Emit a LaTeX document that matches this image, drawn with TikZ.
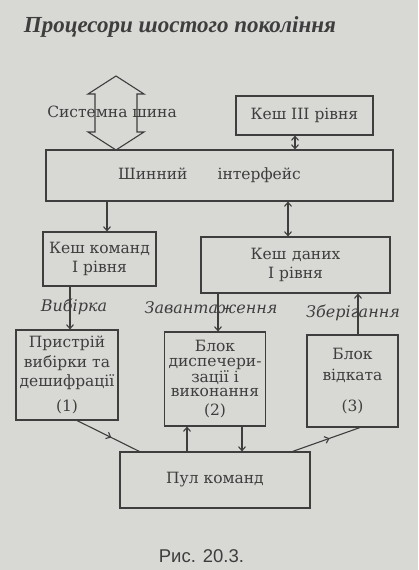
\documentclass[tikz,border=0pt]{standalone}
\usepackage{fontspec}
\setmainfont{DejaVu Serif}
\newfontfamily\titlefont{Liberation Serif}
\newfontfamily\capfont{Liberation Sans}
\usetikzlibrary{arrows.meta,decorations.markings}
\definecolor{papir}{RGB}{216,216,213}
\definecolor{chornylo}{RGB}{62,62,62}

\begin{document}
\begin{tikzpicture}[x=1pt, y=-1pt, >={Straight Barb[length=4pt,width=7pt]},
  font=\fontsize{15.5}{15.5}\selectfont, color=chornylo, line width=1.1pt,
  blok/.style={draw, align=center, inner sep=0pt},
  pidpys/.style={font=\fontsize{16}{16}\selectfont\itshape},
  midarrow/.style={postaction={decorate}, decoration={markings, mark=at position 0.55 with {\arrow{>}}}}]
  \fill[papir] (0,0) rectangle (418,570);
  \node[anchor=base west, font=\titlefont\fontsize{23}{23}\selectfont\bfseries\itshape] (tytul) at (20,32) {Процесори шостого покоління};

  % system bus
  \draw (116,76) -- (144,94) -- (137,94) -- (137,132) -- (144,132) -- (116,150)
    -- (88,132) -- (95,132) -- (95,94) -- (88,94) -- cycle;
  \node (shyna) at (112,112) {Системна шина};

  \node[blok, minimum width=137pt, minimum height=39pt] (kesh3) at (304.5,115.5) {Кеш III рівня};
  \node[blok, minimum width=347pt, minimum height=51pt] (interfejs) at (219.5,175.5) {Шинний\hspace{30pt}інтерфейс\hspace{20pt}};
  \node[blok, minimum width=113pt, minimum height=54pt] (keshkom) at (99.5,259) {Кеш команд\\[4pt]I рівня};
  \node[blok, minimum width=189pt, minimum height=56pt] (keshdan) at (295.5,265) {Кеш\hspace{6pt}даних\\[4pt]I рівня};
  \node[blok, minimum width=102pt, minimum height=90pt, font=\fontsize{15.5}{19.5}\selectfont] (prystrij) at (67,375) {Пристрій\\вибірки та\\дешифрації\\[5pt](1)};
  \node[blok, minimum width=101pt, minimum height=94pt, font=\fontsize{15.5}{14.5}\selectfont] (dysp) at (215,379) {Блок\\диспечери-\\зації і\\виконання\\[4pt](2)};
  \node[blok, minimum width=91pt, minimum height=92pt, font=\fontsize{15.5}{21}\selectfont] (vidkat) at (352.5,381) {Блок\\відката\\[10pt](3)};
  \node[blok, minimum width=190pt, minimum height=56pt] (pul) at (215,480) {Пул команд};

  \draw[<->] (kesh3.south -| 295,0) -- (interfejs.north -| 295,0);
  \draw[->] (interfejs.south -| 107,0) -- (keshkom.north -| 107,0);
  \draw[<->] (interfejs.south -| 288,0) -- (keshdan.north -| 288,0);
  \draw[->] (keshkom.south -| 70,0) -- node[pidpys, xshift=4pt, yshift=1pt] {Вибірка} (prystrij.north -| 70,0);
  \draw[->] (keshdan.south -| 218,0) -- node[pidpys, xshift=-7pt, yshift=5pt] {Завантаження} (dysp.north -| 218,0);
  \draw[->] (vidkat.north -| 358,0) -- node[pidpys, xshift=-5pt, yshift=1pt] {Зберігання} (keshdan.south -| 358,0);
  \draw[midarrow] ([xshift=10pt]prystrij.south) -- ([xshift=20pt]pul.north west);
  \draw[->] (pul.north -| 187,0) -- (dysp.south -| 187,0);
  \draw[->] (dysp.south -| 242,0) -- (pul.north -| 242,0);
  \draw[midarrow] ([xshift=-18pt]pul.north east) -- ([xshift=7.5pt]vidkat.south);

  \node[anchor=base west, font=\capfont\fontsize{18.5}{18.5}\selectfont] (rys) at (155,562) {Рис. 20.3.};
\end{tikzpicture}
\end{document}
